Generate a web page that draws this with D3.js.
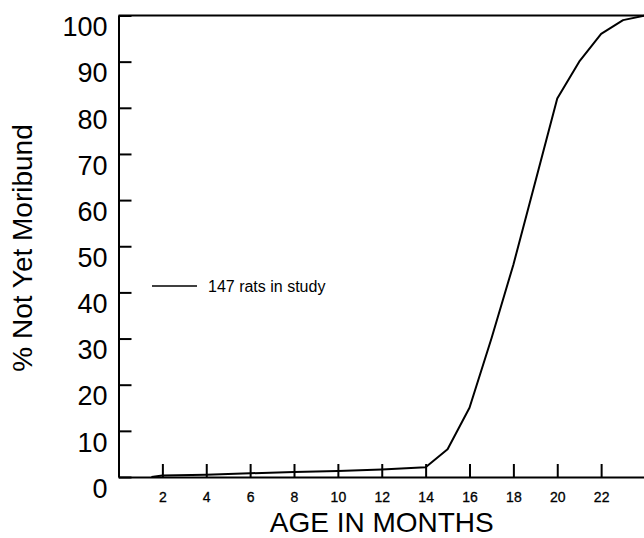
<!DOCTYPE html>
<html>
<head>
<meta charset="utf-8">
<script src="https://cdn.jsdelivr.net/npm/d3@7"></script>
<style>
  body { margin: 0; background: #fff; }
  svg { display: block; font-family: 'Liberation Sans', Arial, Helvetica, sans-serif; }
</style>
</head>
<body>
<div id="chart"></div>
<script>
let width = 644
let height = 538

// months of age vs. % of rats not yet moribund
let ages = [1.5, 2, 4, 6, 8, 10, 12, 14, 15, 16, 17, 18, 19, 20, 21, 22, 23, 24]
let notMoribund = [0, 0.3, 0.5, 0.8, 1.1, 1.3, 1.6, 2.1, 6, 15, 30, 46, 64, 82, 90, 96, 99, 100]

let xTicks = [2, 4, 6, 8, 10, 12, 14, 16, 18, 20, 22, 24]
let xTickLabels = ['2', '4', '6', '8', '10', '12', '14', '16', '18', '20', '22', '']
let yTicks = [0, 10, 20, 30, 40, 50, 60, 70, 80, 90, 100]

let legendLabel = '147 rats in study'

let plot = { left: 118.5, right: 645, top: 15.5, bottom: 477 }

let xScale = d3.scaleLinear().domain([0, 24]).range([plot.left, plot.right])
let yScale = d3.scaleLinear().domain([0, 100]).range([plot.bottom, plot.top])

let svg = d3
  .select('#chart')
  .append('svg')
  .attr('width', width)
  .attr('height', height)

let datapoints = ages.map((a, i) => ({ age: a, pct: notMoribund[i] }))

// y axis, ticks pointing inward
let yAxis = d3
  .axisLeft(yScale)
  .tickValues(yTicks)
  .tickSizeInner(-13)
  .tickSizeOuter(0)
  .tickPadding(11)

svg
  .append('g')
  .attr('class', 'y-axis')
  .attr('transform', `translate(${plot.left},0)`)
  .call(yAxis)
  .call(g => g.selectAll('line').attr('stroke', '#000').attr('stroke-width', 2))
  .call(g => g.select('.domain').attr('stroke', '#000').attr('stroke-width', 2))
  .call(g =>
    g
      .selectAll('text')
      .attr('font-size', 27)
      .attr('fill', '#000')
      .attr('font-family', null)
      .attr('dy', '0.75em')
  )

// x axis, ticks pointing up
let xAxis = d3
  .axisBottom(xScale)
  .tickValues(xTicks)
  .tickFormat((d, i) => xTickLabels[i])
  .tickSizeInner(-13)
  .tickSizeOuter(0)
  .tickPadding(15)

svg
  .append('g')
  .attr('class', 'x-axis')
  .attr('transform', `translate(0,${plot.bottom})`)
  .call(xAxis)
  .call(g => g.selectAll('line').attr('stroke', '#000').attr('stroke-width', 2))
  .call(g => g.select('.domain').attr('stroke', '#000').attr('stroke-width', 2))
  .call(g =>
    g
      .selectAll('text')
      .attr('font-size', 14)
      .attr('fill', '#000')
      .attr('font-family', null)
      .attr('stroke', '#000')
      .attr('stroke-width', 0.3)
  )

// top frame line
svg
  .append('line')
  .attr('x1', xScale(0))
  .attr('x2', xScale(24))
  .attr('y1', yScale(100))
  .attr('y2', yScale(100))
  .attr('stroke', '#000')
  .attr('stroke-width', 2)

let line = d3
  .line()
  .x(d => xScale(d.age))
  .y(d => yScale(d.pct))

svg
  .append('path')
  .datum(datapoints)
  .attr('d', line)
  .attr('fill', 'none')
  .attr('stroke', '#000')
  .attr('stroke-width', 2)
  .attr('stroke-linejoin', 'round')

// legend
svg
  .append('line')
  .attr('x1', 152)
  .attr('x2', 197)
  .attr('y1', 286)
  .attr('y2', 286)
  .attr('stroke', '#000')
  .attr('stroke-width', 1.5)

svg
  .append('text')
  .attr('x', 208)
  .attr('y', 292)
  .attr('font-size', 16)
  .text(legendLabel)

// axis titles
svg
  .append('text')
  .attr('x', (plot.left + plot.right) / 2)
  .attr('y', 532)
  .attr('text-anchor', 'middle')
  .attr('font-size', 28)
  .text('AGE IN MONTHS')

svg
  .append('text')
  .attr('transform', `translate(32,${248}) rotate(-90)`)
  .attr('text-anchor', 'middle')
  .attr('font-size', 28)
  .text('% Not Yet Moribund')
</script>
</body>
</html>
